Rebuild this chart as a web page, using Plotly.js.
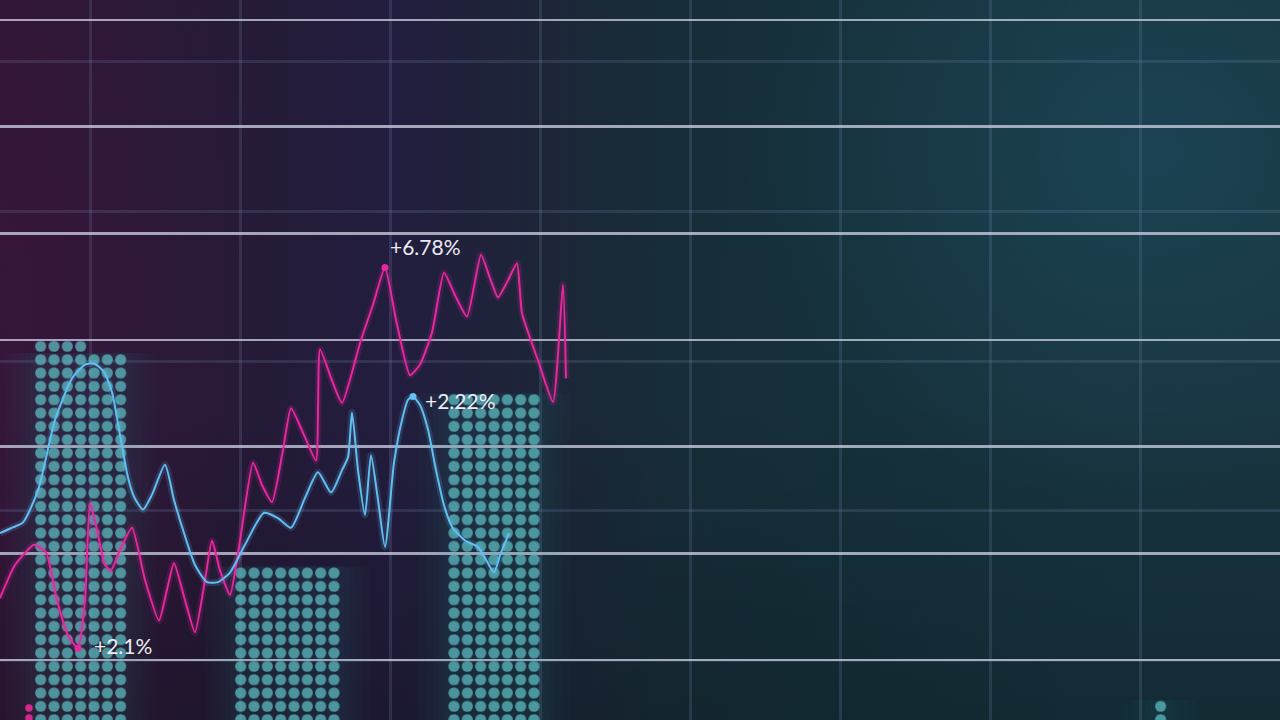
<!DOCTYPE html>
<html>
<head>
<meta charset="utf-8">
<script src="https://cdn.plot.ly/plotly-3.0.1.min.js"></script>
<style>
html,body{margin:0;padding:0;width:1280px;height:720px;overflow:hidden;position:relative;}
body{
  background:
    radial-gradient(ellipse 420px 360px at 1150px 150px, rgba(32,78,100,0.55), rgba(32,78,100,0) 100%),
    radial-gradient(ellipse 260px 600px at 0px 300px, rgba(70,20,70,0.45), rgba(70,20,70,0) 100%),
    linear-gradient(180deg, rgba(0,0,0,0) 55%, rgba(0,0,0,0.18) 100%),
    linear-gradient(90deg, #2c1733 0%, #251a37 18%, #221d3e 31%, #1d2538 42%, #172d38 52%, #15303a 65%, #17343f 85%, #18343f 100%);
}
#chart{position:absolute;left:-6px;top:-7px;width:1286px;height:727px;}
</style>
</head>
<body>
<div id="chart"></div>
<script>
// ---- data ----
const pinkX = [0,1.5,3.4,4.6,5.7,6.8,7.8,8.5,9.0,9.7,10.5,11.1,12.0,13.2,14.5,15.9,16.7,17.4,18.5,19.5,20.5,21.2,22.0,23.0,24.0,25.3,26.2,27.2,28.3,29.1,30.4,31.6,32.0,33.2,34.2,36.0,37.3,38.5,39.6,41.0,42.0,43.2,44.4,45.5,46.7,48.1,49.0,49.8,50.8,51.7,52.2,53.8,55.3,56.3,56.6];
const pinkY = [0.58,0.89,1.08,1.01,0.56,0.23,0.11,0.56,1.47,1.22,0.89,0.84,1.03,1.24,0.75,0.37,0.66,0.91,0.56,0.26,0.75,1.12,0.84,0.61,1.12,1.85,1.64,1.48,1.97,2.36,2.11,1.87,2.91,2.62,2.41,2.97,3.33,3.68,3.19,2.67,2.77,3.07,3.63,3.42,3.22,3.80,3.58,3.40,3.56,3.72,3.25,2.81,2.42,3.52,2.64];

const blueX = [0,1.2,2.3,3.8,5.5,7.2,8.5,9.4,10.4,11.2,12.0,12.8,13.4,14.3,15.2,16.5,17.4,18.4,19.5,20.7,21.8,23.0,24.5,26.4,27.8,29.1,30.5,31.8,33.1,34.2,34.8,35.2,35.8,36.5,37.1,37.8,38.5,39.4,40.2,40.8,41.3,42.0,42.8,43.6,44.4,45.2,46.5,47.8,48.6,49.4,50.0,50.9];
const blueY = [1.19,1.24,1.29,1.59,2.25,2.64,2.77,2.78,2.70,2.51,2.11,1.71,1.53,1.41,1.55,1.83,1.50,1.19,0.89,0.73,0.73,0.82,1.08,1.38,1.33,1.24,1.52,1.76,1.57,1.78,1.90,2.32,1.78,1.36,1.92,1.50,1.06,1.85,2.25,2.44,2.47,2.39,2.16,1.78,1.45,1.25,1.12,1.06,0.94,0.82,0.98,1.19];

// dotted teal bars (centre, top value)
const barX   = [8.07, 28.73, 49.40, 116.07];
const barTop = [2.88, 0.88, 2.50, -0.375];
// partial top row being drawn on the first bar
const capX = [6.07];
const capBottom = [2.88];
const capTop = [3.00];
// small magenta bar at bottom left
const pinkBarX = [2.9];
const pinkBarTop = [-0.40];

const labelText  = ['+6.78%', '+2.22%', '+2.1%'];
const labelSeries = ['pink', 'blue', 'pink'];
const labelIndex = [37, 40, 6];

// ---- build ----
const BASE = -0.7;
const barH = barTop.map(v => v - BASE);
const capH = capTop.map((v,i) => v - capBottom[i]);
const pinkBarH = pinkBarTop.map(v => v - BASE);
const barW = [9.2, 10.55, 9.2, 1.2];

const PINK = '#e8289f';
const BLUE = '#62bff2';
const DOT = 'rgba(92,188,192,0.74)';

const traces = [];
// soft glow behind bars (stacked translucent layers)
[6, 4.5, 3, 1.8, 0.8].forEach(extra => {
  traces.push({type:'bar', x:barX, y:barH, base:BASE, width:barW.map(w=>w+extra),
    marker:{color:'rgba(60,190,190,0.022)', line:{width:0}}, hoverinfo:'skip', showlegend:false});
});
// dotted bars
const pat = {shape:'.', size:13.333, solidity:0.55, fgcolor:DOT, bgcolor:'rgba(0,0,0,0)', fgopacity:1};
traces.push({type:'bar', x:barX, y:barH, base:BASE, width:barW,
  marker:{color:'rgba(0,0,0,0)', line:{width:0}, pattern:pat}, hoverinfo:'skip', showlegend:false});
traces.push({type:'bar', x:capX, y:capH, base:capBottom, width:[5.2],
  marker:{color:'rgba(0,0,0,0)', line:{width:0}, pattern:pat}, hoverinfo:'skip', showlegend:false});
traces.push({type:'bar', x:pinkBarX, y:pinkBarH, base:BASE, width:[0.8],
  marker:{color:'rgba(0,0,0,0)', line:{width:0},
    pattern:{shape:'.', size:10, solidity:0.45, fgcolor:'rgba(230,40,150,0.9)', bgcolor:'rgba(0,0,0,0)', fgopacity:1}},
  hoverinfo:'skip', showlegend:false});

// line glows
traces.push({type:'scatter', mode:'lines', x:pinkX, y:pinkY, line:{color:'rgba(232,40,159,0.16)', width:7, shape:'spline', smoothing:0.5}, hoverinfo:'skip', showlegend:false});
traces.push({type:'scatter', mode:'lines', x:blueX, y:blueY, line:{color:'rgba(98,191,242,0.16)', width:7, shape:'spline', smoothing:0.6}, hoverinfo:'skip', showlegend:false});
// lines
traces.push({type:'scatter', mode:'lines', x:pinkX, y:pinkY, line:{color:PINK, width:2, shape:'spline', smoothing:0.5}, showlegend:false});
traces.push({type:'scatter', mode:'lines', x:blueX, y:blueY, line:{color:BLUE, width:2, shape:'spline', smoothing:0.6}, showlegend:false});

// label markers
const ser = {pink:{x:pinkX,y:pinkY,c:PINK}, blue:{x:blueX,y:blueY,c:BLUE}};
traces.push({type:'scatter', mode:'markers',
  x: labelIndex.map((i,k)=>ser[labelSeries[k]].x[i]),
  y: labelIndex.map((i,k)=>ser[labelSeries[k]].y[i]),
  marker:{size:7, color: labelSeries.map(s=>ser[s].c)}, showlegend:false});

const shifts = [[3,21],[10,-4],[14,3]];
const annotations = labelText.map((t,k)=>({
  x: ser[labelSeries[k]].x[labelIndex[k]],
  y: ser[labelSeries[k]].y[labelIndex[k]],
  text: t, showarrow:false, xanchor:'left', yanchor:'middle',
  xshift: shifts[k][0], yshift: shifts[k][1],
  font:{family:'Lato, "Open Sans", sans-serif', size:21, color:'#ecebf2'}
}));

const layout = {
  width:1286, height:727,
  margin:{l:0,r:0,t:0,b:0,pad:0},
  paper_bgcolor:'rgba(0,0,0,0)', plot_bgcolor:'rgba(0,0,0,0)',
  barmode:'overlay',
  showlegend:false,
  xaxis:{range:[-0.6,128], tick0:9, dtick:15, showgrid:true, gridcolor:'rgba(120,140,180,0.20)', gridwidth:3,
         zeroline:false, showticklabels:false, ticks:'', showline:false, fixedrange:true},
  yaxis:{range:[-0.5625, 6.253], tick0:0, dtick:1, showgrid:true, gridcolor:'rgba(205,208,228,0.76)', gridwidth:2.5,
         zeroline:false, showticklabels:false, ticks:'', showline:false, fixedrange:true,
         minor:{tick0:5.615, dtick:1.406, showgrid:true, gridcolor:'rgba(120,140,180,0.20)', gridwidth:3, ticks:''}},
  annotations: annotations
};

Plotly.newPlot('chart', traces, layout, {displayModeBar:false, staticPlot:true});
</script>
</body>
</html>
